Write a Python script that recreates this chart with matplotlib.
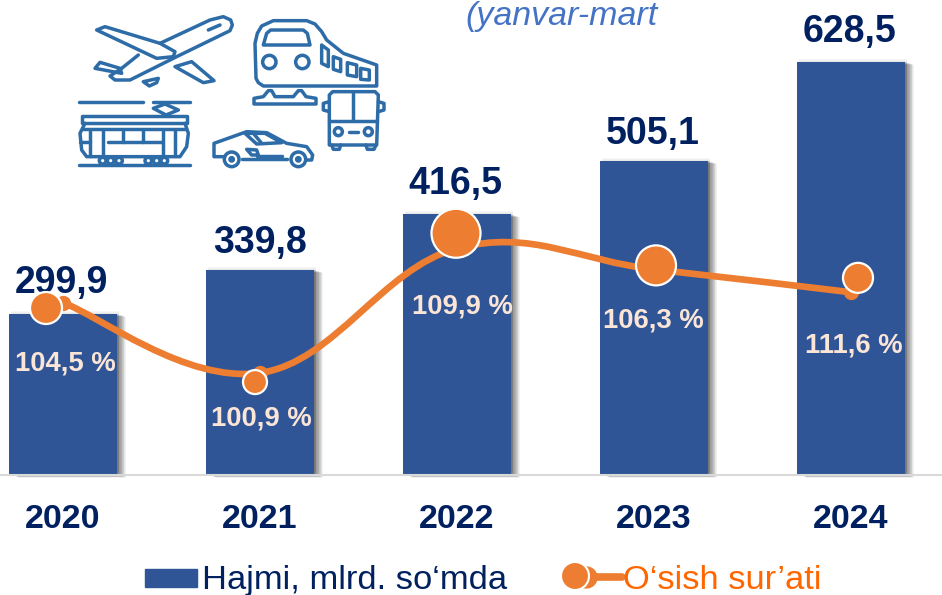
#!/usr/bin/env python3
"""Transport volume chart: bars with growth line and small line-art icons."""

import matplotlib
matplotlib.use('Agg')
import matplotlib.pyplot as plt
import matplotlib.patheffects as pe
from matplotlib.patches import Circle, Polygon, Rectangle
from matplotlib.path import Path
from matplotlib.patches import PathPatch
import numpy as np

plt.rcParams['font.family'] = ['Liberation Sans', 'DejaVu Sans']

years = ['2020', '2021', '2022', '2023', '2024']
volume_labels = ['299,9', '339,8', '416,5', '505,1', '628,5']
growth_labels = ['104,5 %', '100,9 %', '109,9 %', '106,3 %', '111,6 %']

# the bars in the source are not to scale with their labels, so heights are read off the picture
bar_heights = [245.6, 312.7, 397.4, 479, 630]
line_levels = [262, 155, 345, 313, 278]
marker_levels = [254, 141, 368, 319, 300]

NAVY = '#002060'
BLUE = '#2F5597'
ORANGE = '#ED7D31'
PEACH = '#FBE5D6'
ICON = '#2E6CA8'
W, H = 942, 595
BASE = 474.5
UNIT = 1.5255


def py(p):
    """Pixel row in the picture -> value on the bar axis."""
    return (BASE - p) * UNIT


fig = plt.figure(figsize=(W / 100, H / 100), dpi=100, facecolor='white')
ax = fig.add_axes([0, 1 - BASE / H, 1, BASE / H])
ax.set_xlim(-63 / 197, (W - 63) / 197)
ax.set_ylim(0, py(0))
ax.patch.set_visible(False)
for s in ['top', 'left', 'right']:
    ax.spines[s].set_visible(False)
ax.spines['bottom'].set_color('#D9D9D9')
ax.spines['bottom'].set_linewidth(1.5)
ax.set_yticks([])
x = np.arange(len(years))
ax.set_xticks(x, years, fontsize=24.5, fontweight='bold', color=NAVY)
ax.tick_params(axis='x', length=0, pad=21.5)

# soft shadow on the right side of the bars
shadow = [pe.SimplePatchShadow(offset=(k, -0.35 * k), shadow_rgbFace='black', alpha=0.05, rho=1)
          for k in np.arange(6.5, 0, -0.5)]
shadow += [pe.SimplePatchShadow(offset=(1.5, k), shadow_rgbFace='black', alpha=0.03, rho=1)
           for k in [2, 1.2, 0.5]]
bars = ax.bar(x, bar_heights, width=0.545, color=BLUE, clip_on=False, zorder=2)
for b in bars:
    b.set_path_effects(shadow + [pe.Normal()])

# value labels sit above the bars
value_dx = [-1, 0, -1, -1, -1]
value_gap = [15, 12.2, 14.4, 12.2, 14.4]
for i, lab in enumerate(volume_labels):
    ax.annotate(lab, (i, bar_heights[i]), xytext=(value_dx[i], value_gap[i]), textcoords='offset points',
                ha='center', va='baseline', fontsize=27, fontweight='bold', color=NAVY, zorder=3)

# smooth line through the levels, drawn as a bezier path in data coordinates
lx = np.array(x, dtype=float)
ly = np.array(line_levels, dtype=float)
verts = [(lx[0], ly[0])]
codes = [Path.MOVETO]
K = 0.19
for i in range(len(lx) - 1):
    p0 = max(i - 1, 0)
    p3 = min(i + 2, len(lx) - 1)
    verts += [(lx[i] + K * (lx[i + 1] - lx[p0]), ly[i] + K * (ly[i + 1] - ly[p0])),
              (lx[i + 1] - K * (lx[p3] - lx[i]), ly[i + 1] - K * (ly[p3] - ly[i])),
              (lx[i + 1], ly[i + 1])]
    codes += [Path.CURVE4] * 3
ax.add_patch(PathPatch(Path(verts, codes), fill=False, edgecolor=ORANGE, lw=4.8,
                       capstyle='round', zorder=4))
ax.plot(lx, ly, ls='none', marker='o', ms=10, color=ORANGE, zorder=4, clip_on=False)

# the big markers were moved by hand in the source, so they sit off the line
marker_dx = [-17 / 197, -5 / 197, -1 / 197, 2 / 197, 7 / 197]
marker_d = [32, 24, 49, 40, 30]
ax.scatter(lx + np.array(marker_dx), marker_levels, s=(np.array(marker_d) * 0.72) ** 2,
           color=ORANGE, edgecolor='white', linewidth=1.6, zorder=5, clip_on=False)

pct_cx = [65, 261, 462, 653, 854]
pct_base = [370, 426, 314, 328, 352]
for i, lab in enumerate(growth_labels):
    ax.text((pct_cx[i] - 63) / 197, py(pct_base[i]), lab, ha='center', va='baseline',
            fontsize=19.8, fontweight='bold', color=PEACH, zorder=6)

# overlay in pixel coordinates for the title scrap, legend and icons
ov = fig.add_axes([0, 0, 1, 1], zorder=10)
ov.set_xlim(0, W)
ov.set_ylim(H, 0)
ov.axis('off')
ov.text(465, 24.5, '(yanvar-mart', fontsize=24.5, style='italic', color='#4472C4', va='baseline')

# legend
ov.add_patch(Rectangle((145, 569), 52, 18, color=BLUE))
ov.text(202, 589, 'Hajmi, mlrd. so\u2018mda', fontsize=24.8, color=NAVY, va='baseline')
ov.plot([590, 622], [577, 577], color=ORANGE, lw=5.5, solid_capstyle='round')
ov.plot([586], [577], marker='o', ms=15, color=ORANGE)
ov.add_patch(Circle((575, 576), 14, fc=ORANGE, ec='white', lw=1.5, zorder=3))
ov.text(623, 589, 'O\u2018sish sur\u2019ati', fontsize=24.8, color='#FF6600', va='baseline')


def zp(pts):
    return [(60 + a / 3, b / 3) for a, b in pts]


def shape(pts, closed=True):
    ov.add_patch(Polygon(zp(pts), closed=closed, fill=False, ec=ICON, lw=2.5, joinstyle='round',
                         capstyle='round'))


def dot(cx, cy, r, fill='none'):
    ov.add_patch(Circle(zp([(cx, cy)])[0], r / 3, fc=fill, ec=ICON, lw=2.5))


# plane
shape([(300, 130), (450, 60), (490, 50), (512, 60), (517, 75), (510, 92), (350, 170), (210, 240), (165, 240),
       (150, 228), (185, 205), (235, 165)], closed=False)
shape([(110, 90), (135, 80), (300, 130), (345, 155), (340, 170), (290, 175)])
shape([(105, 205), (120, 187), (180, 205), (185, 220)])
shape([(345, 200), (395, 185), (462, 242), (430, 248)])
shape([(250, 245), (295, 235), (290, 248), (268, 258)])
shape([(445, 90), (480, 75)], closed=False)

# train
shape([(595, 248), (588, 235), (585, 130), (592, 100), (605, 78), (640, 62), (740, 62), (765, 72), (785, 95),
       (800, 120), (850, 160), (950, 195), (950, 258), (610, 258)])
shape([(610, 135), (620, 100), (632, 90), (730, 90), (742, 100), (750, 135)])
dot(628, 186, 20)
dot(727, 186, 20)
shape([(785, 135), (805, 150), (805, 200), (785, 190)])
shape([(820, 170), (842, 178), (842, 215), (820, 208)])
shape([(862, 188), (890, 195), (890, 230), (862, 225)])
shape([(902, 205), (928, 210), (928, 240), (902, 238)])
shape([(582, 312), (582, 295), (610, 290), (625, 272), (635, 272), (645, 290), (700, 290),
       (715, 272), (725, 272), (738, 290), (768, 295), (768, 312)])

# bus
shape([(808, 285), (818, 275), (945, 275), (955, 285), (950, 435), (808, 435)])
shape([(880, 275), (880, 360)], closed=False)
shape([(808, 362), (950, 362)], closed=False)
shape([(808, 305), (790, 310), (790, 330), (808, 335)], closed=False)
shape([(955, 305), (972, 310), (972, 330), (955, 335)], closed=False)
dot(835, 395, 12)
dot(925, 395, 12)
shape([(868, 395), (895, 395)], closed=False)
shape([(815, 435), (820, 448), (838, 448), (842, 435)], closed=False)
shape([(918, 435), (922, 448), (942, 448), (948, 435)], closed=False)

# tram
shape([(58, 306), (250, 306)], closed=False)
shape([(278, 306), (390, 306)], closed=False)
shape([(280, 325), (315, 312), (355, 330), (318, 345)])
shape([(65, 348), (380, 348), (380, 368), (65, 368)])
shape([(70, 388), (375, 388)], closed=False)
shape([(75, 370), (60, 400), (65, 450), (80, 470), (360, 470), (380, 440), (385, 400), (375, 370)],
      closed=False)
for vx in [90, 130, 190, 250, 310, 345]:
    shape([(vx, 392), (vx, 468 if vx in (90, 130, 310, 345) else 425)], closed=False)
shape([(60, 425), (90, 425)], closed=False)
shape([(145, 425), (305, 425)], closed=False)
for wx in [128, 152, 177, 265, 290, 313]:
    dot(wx, 482, 10, 'white')
shape([(58, 494), (390, 494)], closed=False)

# car
shape([(490, 470), (462, 470), (462, 430), (490, 420), (560, 395), (620, 398), (680, 430),
       (740, 440), (758, 465), (755, 480), (735, 480)], closed=False)
shape([(680, 478), (545, 478)], closed=False)
dot(515, 478, 22, 'white')
dot(715, 478, 22, 'white')
dot(515, 478, 5, ICON)
dot(715, 478, 5, ICON)
shape([(555, 400), (590, 432), (665, 428), (615, 400)])
shape([(580, 400), (605, 430)], closed=False)
shape([(560, 448), (590, 450), (595, 465), (575, 465)])
shape([(590, 468), (665, 468)], closed=False)

fig.savefig('out.png', dpi=100)
